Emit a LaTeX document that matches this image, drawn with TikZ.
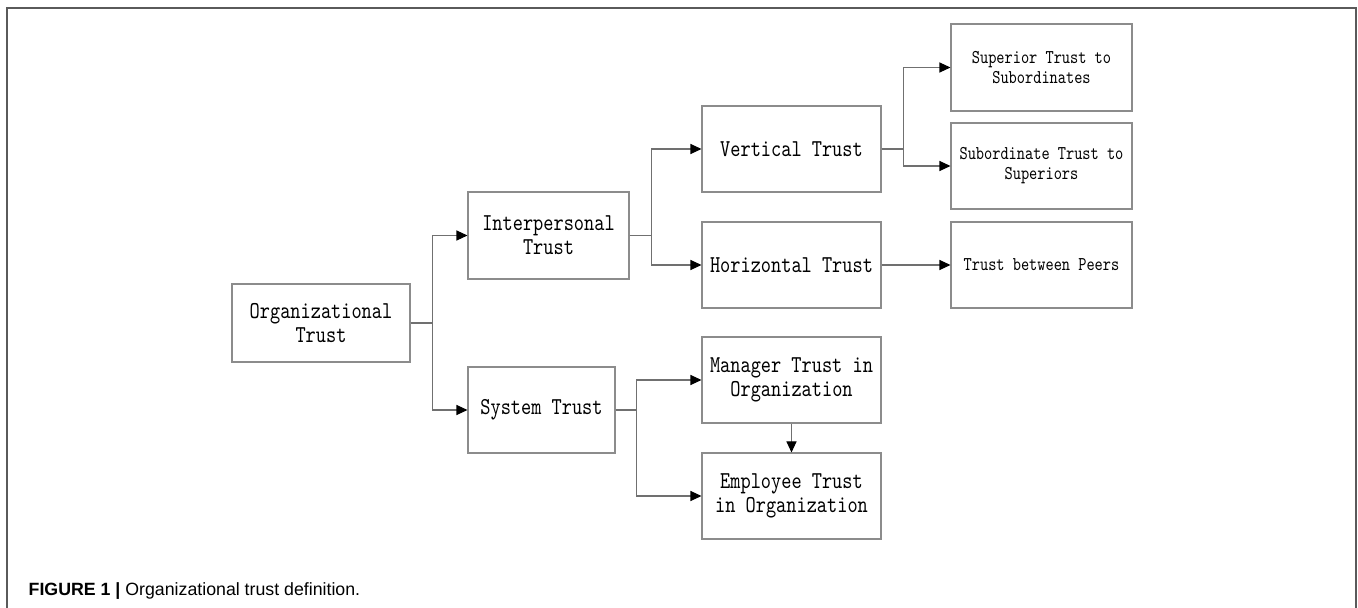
\documentclass[tikz,border=0pt]{standalone}
\usepackage{fontspec}
\newfontfamily\capfont{Liberation Sans}
\newfontfamily\boxfont{lmmono10-regular.otf}[FakeStretch=0.8]
\usetikzlibrary{arrows.meta}
\definecolor{box-gray}{HTML}{8C8C8C}
\definecolor{line-gray}{HTML}{707070}
\definecolor{frame-gray}{HTML}{5A5A5A}

\begin{document}
\begin{tikzpicture}[
    every node/.style={font=\boxfont\fontsize{13.8}{13.6}\selectfont},
    tbox/.style={draw=box-gray, line width=0.6pt, fill=white, align=center,
        minimum width=3.58cm, minimum height=1.72cm, inner sep=0pt},
    sbox/.style={tbox, minimum width=3.62cm,
        font=\boxfont\fontsize{11.1}{11.3}\selectfont},
    conn/.style={draw=line-gray, line width=0.6pt,
        -{Triangle[length=2.2mm, width=2mm, color=black, fill=black]}}]
      \useasboundingbox (0,0) rectangle (27.16,-12.16);
      % frame
      \draw[frame-gray, line width=0.8pt] (0.14,-12.16) -- (0.14,-0.16) -- (27.12,-0.16) -- (27.12,-12.16);
      \node[anchor=west, font=\capfont\fontsize{10.1}{12}\selectfont] (CAP) at (0.45,-11.82)
          {\textbf{FIGURE 1 |} Organizational trust definition.};
      % first level
      \node[tbox, minimum width=3.56cm, minimum height=1.56cm] (OT) at (6.42,-6.46) {Organizational\\Trust};
      \node[tbox, minimum width=3.22cm, minimum height=1.74cm] (IT) at (10.97,-4.71) {Interpersonal\\Trust};
      \node[tbox, minimum width=2.94cm] (ST) at (10.83,-8.20) {System Trust};
      \draw[conn] (OT.east) -- ++(0.44,0) |- (IT.west);
      \draw[conn] (OT.east) -- ++(0.44,0) |- (ST.west);
      % second level
      \node[tbox] (VT) at (15.83,-2.98) {Vertical Trust};
      \node[tbox] (HT) at (15.83,-5.30) {Horizontal Trust};
      \node[tbox] (MT) at (15.83,-7.60) {Manager Trust in\\Organization};
      \node[tbox] (ET) at (15.83,-9.92) {Employee Trust\\in Organization};
      \draw[conn] (IT.east) -- ++(0.44,0) |- (VT.west);
      \draw[conn] (IT.east) -- ++(0.44,0) |- (HT.west);
      \draw[conn] (ST.east) -- ++(0.42,0) |- (MT.west);
      \draw[conn] (ST.east) -- ++(0.42,0) |- (ET.west);
      \draw[conn] (MT.south) -- (ET.north);
      % third level
      \node[sbox, minimum height=1.74cm] (SU) at (20.83,-1.35) {Superior Trust to\\Subordinates};
      \node[sbox] (SB) at (20.83,-3.32) {Subordinate Trust to\\Superiors};
      \node[sbox] (PE) at (20.83,-5.30) {Trust between Peers};
      \draw[conn] (VT.east) -- ++(0.44,0) |- (SU.west);
      \draw[conn] (VT.east) -- ++(0.44,0) |- (SB.west);
      \draw[conn] (HT.east) -- (PE.west);
    \end{tikzpicture}
\end{document}
